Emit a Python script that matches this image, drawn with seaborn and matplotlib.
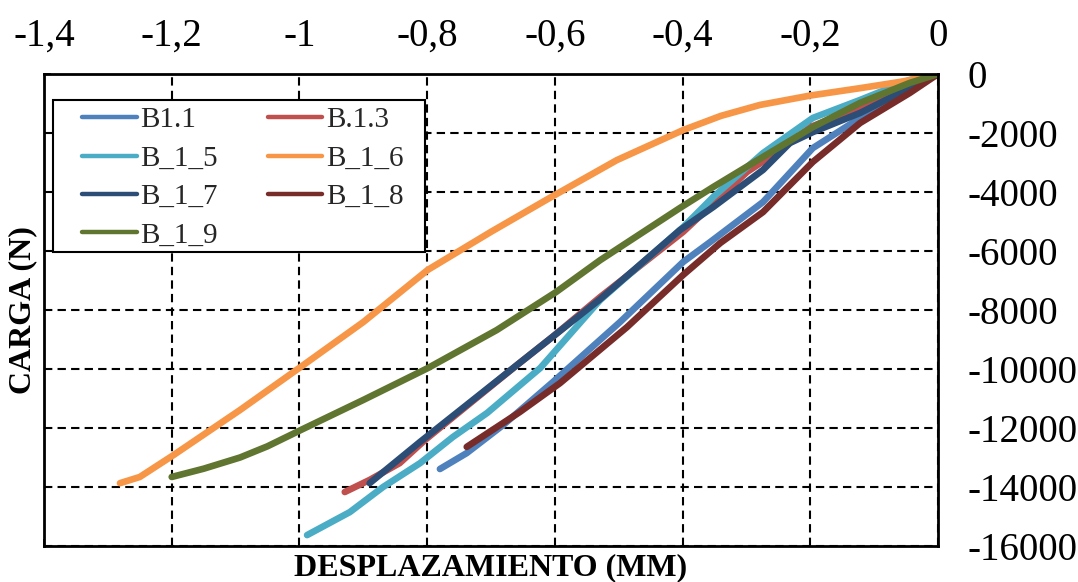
import numpy as np
import pandas as pd
import matplotlib
matplotlib.use("Agg")
import matplotlib.pyplot as plt
from matplotlib.patches import Rectangle
import seaborn as sns

# ---------------- data ----------------
series_names = ["B1.1", "B.1.3", "B_1_5", "B_1_6", "B_1_7", "B_1_8", "B_1_9"]
series_colors = ["#4F81BD", "#C0504D", "#4BACC6", "#F79646", "#2C4D75", "#772C2A", "#5F7530"]

b11_x = [0, -0.044, -0.122, -0.196, -0.274, -0.357, -0.399, -0.498, -0.603, -0.681, -0.738, -0.780]
b11_y = [0, -470, -1490, -2510, -4340, -5700, -6370, -8410, -10440, -11900, -12850, -13390]

b13_x = [0, -0.044, -0.122, -0.200, -0.247, -0.299, -0.399, -0.529, -0.603, -0.659, -0.803, -0.843, -0.890, -0.929]
b13_y = [0, -370, -1120, -1800, -2580, -3320, -5350, -7560, -8900, -9860, -12400, -13190, -13760, -14170]

b15_x = [0, -0.044, -0.122, -0.196, -0.274, -0.352, -0.399, -0.529, -0.623, -0.706, -0.760, -0.811, -0.869, -0.921, -0.988]
b15_y = [0, -200, -880, -1490, -2680, -4170, -5190, -7660, -9970, -11490, -12310, -13190, -14000, -14850, -15630]

b16_x = [0, -0.030, -0.060, -0.122, -0.200, -0.279, -0.340, -0.399, -0.503, -0.608, -0.700, -0.799, -0.900, -0.998, -1.093, -1.198, -1.250, -1.281]
b16_y = [0, -150, -270, -480, -730, -1050, -1420, -1900, -2920, -4200, -5350, -6640, -8410, -9930, -11390, -12930, -13660, -13870]

b17_x = [0, -0.044, -0.122, -0.196, -0.232, -0.274, -0.352, -0.404, -0.529, -0.603, -0.659, -0.811, -0.890]
b17_y = [0, -470, -1320, -1970, -2340, -3250, -4510, -5290, -7630, -8900, -9860, -12470, -13870]

b18_x = [0, -0.044, -0.122, -0.196, -0.274, -0.341, -0.399, -0.487, -0.592, -0.655, -0.738]
b18_y = [0, -640, -1660, -2980, -4680, -5730, -6810, -8580, -10480, -11460, -12640]

b19_x = [0, -0.044, -0.122, -0.196, -0.274, -0.352, -0.404, -0.529, -0.598, -0.691, -0.799, -0.900, -0.998, -1.050, -1.093, -1.150, -1.200]
b19_y = [0, -300, -980, -1800, -2810, -3830, -4540, -6310, -7390, -8680, -9970, -11050, -12070, -12620, -13000, -13380, -13660]

x_ticks = [-1.4, -1.2, -1.0, -0.8, -0.6, -0.4, -0.2, 0.0]
x_tick_labels = ["-1,4", "-1,2", "-1", "-0,8", "-0,6", "-0,4", "-0,2", "0"]
y_ticks = [0, -2000, -4000, -6000, -8000, -10000, -12000, -14000, -16000]
y_tick_labels = ["0", "-2000", "-4000", "-6000", "-8000", "-10000", "-12000", "-14000", "-16000"]

x_label = "DESPLAZAMIENTO (MM)"
y_label = "CARGA (N)"

all_x = [b11_x, b13_x, b15_x, b16_x, b17_x, b18_x, b19_x]
all_y = [b11_y, b13_y, b15_y, b16_y, b17_y, b18_y, b19_y]

frames = []
for name, xs, ys in zip(series_names, all_x, all_y):
    frames.append(pd.DataFrame({"x": xs, "y": ys, "serie": name}))
df = pd.concat(frames, ignore_index=True)

# ---------------- style ----------------
sns.set_theme(style="white")
plt.rcParams["font.family"] = ["Liberation Serif", "DejaVu Serif"]

W, H = 1078, 582
fig = plt.figure(figsize=(W / 100, H / 100), dpi=100)
ax = fig.add_axes([44 / W, 1 - 546 / H, (938 - 44) / W, (546 - 74) / H])

sns.lineplot(data=df, x="x", y="y", hue="serie", hue_order=series_names,
             palette=series_colors, sort=False, estimator=None,
             lw=4.8, solid_capstyle="round", solid_joinstyle="round", ax=ax, legend=True)

ax.set_xlim(-1.4, 0)
ax.set_ylim(-16000, 0)
ax.set_xticks(x_ticks)
ax.set_xticklabels(x_tick_labels)
ax.set_yticks(y_ticks)
ax.set_yticklabels(y_tick_labels)

ax.grid(True, color="black", linestyle=(0, (4, 2.5)), lw=1.5)
ax.set_axisbelow(True)

ax.tick_params(axis="x", which="both", direction="in", length=5, width=1.2, color="black",
               top=False, bottom=True, labeltop=True, labelbottom=False,
               labelsize=28, pad=14, labelcolor="black")
ax.tick_params(axis="y", which="both", direction="in", length=5, width=1.2, color="black",
               left=True, right=False, labelleft=False, labelright=True,
               labelsize=28, pad=21, labelcolor="black")

for s in ax.spines.values():
    s.set_color("black")
    s.set_linewidth(2)
    s.set_visible(True)

ax.xaxis.set_label_position("bottom")
ax.yaxis.set_label_position("left")
ax.set_xlabel(x_label, fontsize=23, fontweight="bold", labelpad=5, color="black")
ax.set_ylabel(y_label, fontsize=23, fontweight="bold", labelpad=5, color="black")

# legend frame (white box) drawn separately for exact placement
frame = Rectangle((53 / W, 1 - 252 / H), (425 - 53) / W, (252 - 100) / H,
                  transform=fig.transFigure, facecolor="white", edgecolor="black",
                  lw=1.5, zorder=4.5, clip_on=False)
ax.add_patch(frame)

handles, labels = ax.get_legend_handles_labels()
order = [0, 2, 4, 6, 1, 3, 5]
leg = ax.legend([handles[i] for i in order], [labels[i] for i in order],
                ncol=2, loc="upper left",
                bbox_to_anchor=(82 / W, 1 - 107 / H), bbox_transform=fig.transFigure,
                frameon=False, fontsize=21, handlelength=1.88, handletextpad=0.12,
                columnspacing=1.7, labelspacing=0.41, borderpad=0, borderaxespad=0)
leg.set_zorder(5)
for line in leg.get_lines():
    line.set_linewidth(3.2)
    line.set_solid_capstyle("round")

fig.savefig("out.png", dpi=100)
